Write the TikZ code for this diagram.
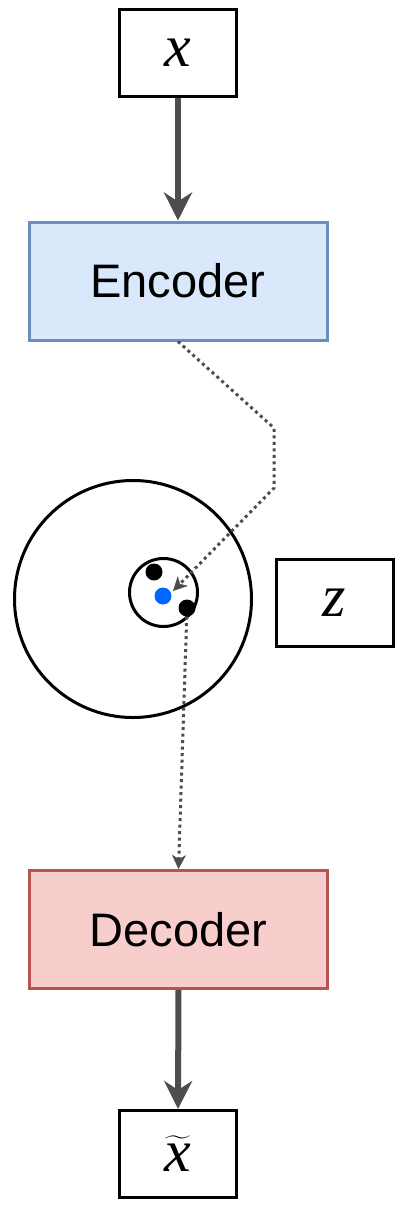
\documentclass[tikz,border=0pt]{standalone}
\usepackage{fix-cm}
\usepackage{amsmath}
\usepackage{fontspec}
\setmainfont{Liberation Sans}
\newfontfamily\timesfont{Liberation Serif}[ItalicFont={Liberation Serif Italic}]
\usetikzlibrary{arrows.meta}
\definecolor{encfill}{HTML}{DAE8FC}
\definecolor{encdraw}{HTML}{6C8EBF}
\definecolor{decfill}{HTML}{F8CECC}
\definecolor{decdraw}{HTML}{B85450}
\definecolor{grisflecha}{HTML}{4D4D4D}
\definecolor{azulpunto}{HTML}{0066FF}

\begin{document}
\begin{tikzpicture}[x=1pt,y=-1pt,
	caja/.style={draw=black, line width=3pt, fill=white, minimum width=117pt, minimum height=87pt, inner sep=0pt, font=\fontsize{60}{60}\selectfont\timesfont\itshape},
	bloque/.style={line width=3pt, minimum width=298pt, minimum height=118pt, inner sep=0pt, font=\fontsize{47}{50}\selectfont},
	flecha/.style={grisflecha, line width=6pt, -{Stealth[length=28pt,width=28pt,inset=9pt]}},
	punteada/.style={grisflecha, line width=3pt, dash pattern=on 3pt off 3.5pt, -{Stealth[length=14pt,width=14pt,inset=4pt,line width=0.5pt]}},
	punto/.style={circle, fill, inner sep=0pt, minimum size=17pt}]
	\useasboundingbox (0,0) rectangle (406,1209);

	%Entrada y salida
	\node[caja] (x) at (178,53) {x};
	\node[caja] (xt) at (178,1154) {$\widetilde{\mbox{\timesfont\itshape x}}$};
	\node[caja] (z) at (334.5,602.5) {z};

	%Bloques
	\node[bloque, draw=encdraw, fill=encfill] (enc) at (178,281) {Encoder};
	\node[bloque, draw=decdraw, fill=decfill] (dec) at (178.5,929.5) {Decoder};
	\draw[flecha] (x.south) -- (enc.north);
	\draw[flecha] (dec.south) -- (xt.north);

	%Espacio latente
	\node[circle, draw, line width=3pt, minimum size=237pt, inner sep=0pt] (grande) at (133,599) {};
	\node[circle, draw, line width=3pt, minimum size=68pt, inner sep=0pt] (pequena) at (163.5,592.5) {};
	\node[punto, fill=azulpunto] (media) at (163,596) {};
	\node[punto] (p1) at (154,572) {};
	\node[punto] (p2) at (187,608) {};

	%Muestreo
	\coordinate (codo1) at (274,428);
	\coordinate (codo2) at (274,488);
	\coordinate (fin) at (173,591);
	\draw[punteada] (enc.south) -- (codo1) -- (codo2) -- (fin);
	\draw[punteada] (p2) -- (dec.north);
\end{tikzpicture}
\end{document}
